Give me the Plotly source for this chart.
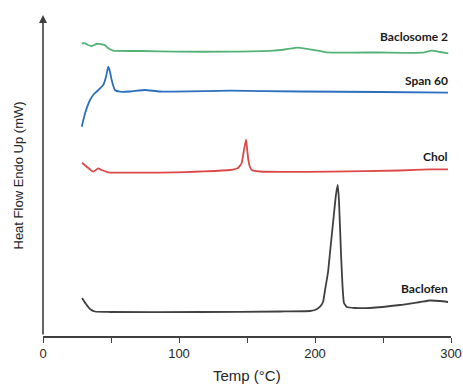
import plotly.graph_objects as go

# Baclofen (gray)
baclofen_t = [28.7, 31.6, 34.6, 38.2, 49.3, 115.4, 174.3, 196.3, 200.0, 203.7, 205.9, 207.4, 209.6, 211.0,
              212.5, 214.0, 215.4, 216.7, 217.6, 219.1, 220.2, 221.3, 223.5, 229.4, 240.4, 262.5, 277.2,
              284.6, 291.9, 297.8]
baclofen_y = [38, 32, 27, 24.5, 24, 24, 24.5, 25, 26, 29.3, 34, 46, 64, 83, 103, 123, 141, 151, 136, 83, 51,
              33, 29, 28, 28, 31, 34, 35.5, 35, 34]

# Chol (red)
chol_t = [28.7, 32.1, 37.0, 40.6, 43.1, 48.0, 97.0, 137.5, 143.4, 146.1, 147.4, 149.3, 150.0, 151.0, 152.2,
          153.5, 159.6, 211.0, 262.5, 284.6, 297.8]
chol_y = [173.3, 169.3, 164.3, 167.7, 166, 163.7, 163.7, 166, 168, 173, 183, 196.7, 188, 176, 169, 166,
          164.5, 164.3, 165.5, 166.7, 166.7]

# Span 60 (blue)
span_t = [28.5, 31.0, 34.6, 37.5, 40.7, 44.3, 46.3, 48.0, 49.3, 50.5, 52.9, 56.6, 64.0, 75.0, 86.0, 137.5,
          189.0, 248.0, 297.8]
span_y = [209.3, 223, 236, 242, 246, 251, 259, 269.3, 264, 256, 246, 244.3, 244.5, 246, 244.5, 245.3,
          244.5, 244, 243.3]

# Baclosome 2 (green)
bacl2_t = [28.5, 31.0, 33.1, 35.8, 39.4, 44.3, 46.3, 48.0, 51.7, 72.6, 97.1, 137.5, 169.1, 177.9, 187.5,
           196.3, 208.6, 247.8, 279.4, 285.8, 291.9, 298.0]
bacl2_y = [292.7, 292.7, 291, 290, 292, 291.3, 290, 287.7, 285.3, 285, 284.3, 284.3, 285.3, 286.5, 288.3,
           286.7, 283.7, 283.5, 283.3, 285.3, 284, 282.7]

series_names = ["Baclosome 2", "Span 60", "Chol", "Baclofen"]
label_y = [300, 256, 180, 48]
x_tick_vals = [0, 50, 100, 150, 200, 250, 300]
x_tick_text = ["0", "", "100", "", "200", "", "300"]

colors = ["#55b277", "#2d6fbf", "#dc4848", "#404040"]
data = [(bacl2_t, bacl2_y), (span_t, span_y), (chol_t, chol_y), (baclofen_t, baclofen_y)]

fig = go.Figure()
for (t, y), c, n in zip(data, colors, series_names):
    fig.add_trace(go.Scatter(x=t, y=y, mode="lines", name=n,
                             line=dict(color=c, width=1.8, shape="spline", smoothing=0.4),
                             showlegend=False, hoverinfo="skip"))

for n, ly in zip(series_names, label_y):
    fig.add_annotation(x=299.5, y=ly, text="<b>" + n + "</b>", showarrow=False,
                       xanchor="right", yanchor="middle",
                       font=dict(family="Lato", size=12, color="#1a1a1a"))

# y axis arrow
fig.add_annotation(x=0, y=321, ax=0, ay=0, axref="x", ayref="y", xref="x", yref="y",
                   text="", showarrow=True, arrowhead=2, arrowsize=1, arrowwidth=1.6,
                   arrowcolor="#404040", standoff=0, startstandoff=0)

fig.add_annotation(xref="paper", yref="paper", x=0.5, y=0, yshift=-39, text="Temp (°C)",
                   showarrow=False, xanchor="center", yanchor="middle",
                   font=dict(family="Liberation Sans", size=15, color="#262626"))
fig.add_annotation(xref="paper", yref="paper", x=0, y=0.5, xshift=-25, text="Heat Flow Endo Up (mW)",
                   showarrow=False, xanchor="center", yanchor="middle", textangle=-90,
                   font=dict(family="Liberation Sans", size=13, color="#262626"))

fig.update_layout(
    width=463, height=385,
    margin=dict(l=43, r=12, t=15, b=49),
    paper_bgcolor="white", plot_bgcolor="white",
    xaxis=dict(range=[0, 300], tickvals=x_tick_vals, ticktext=x_tick_text, automargin=False,
               ticks="outside", ticklen=5, tickwidth=1.2, tickcolor="#404040",
               showline=True, linecolor="#404040", linewidth=1.6, showgrid=False, zeroline=False,
               tickfont=dict(family="Liberation Sans", size=13, color="#262626")),
    yaxis=dict(range=[0, 321], showline=False, showgrid=False, zeroline=False, automargin=False,
               showticklabels=False, ticks=""),
)

# remove the default page margin so the figure fills the window exactly
fig.write_html("out.html", config={"displayModeBar": False},
               post_script="document.body.style.margin='0';document.body.style.overflow='hidden';")
